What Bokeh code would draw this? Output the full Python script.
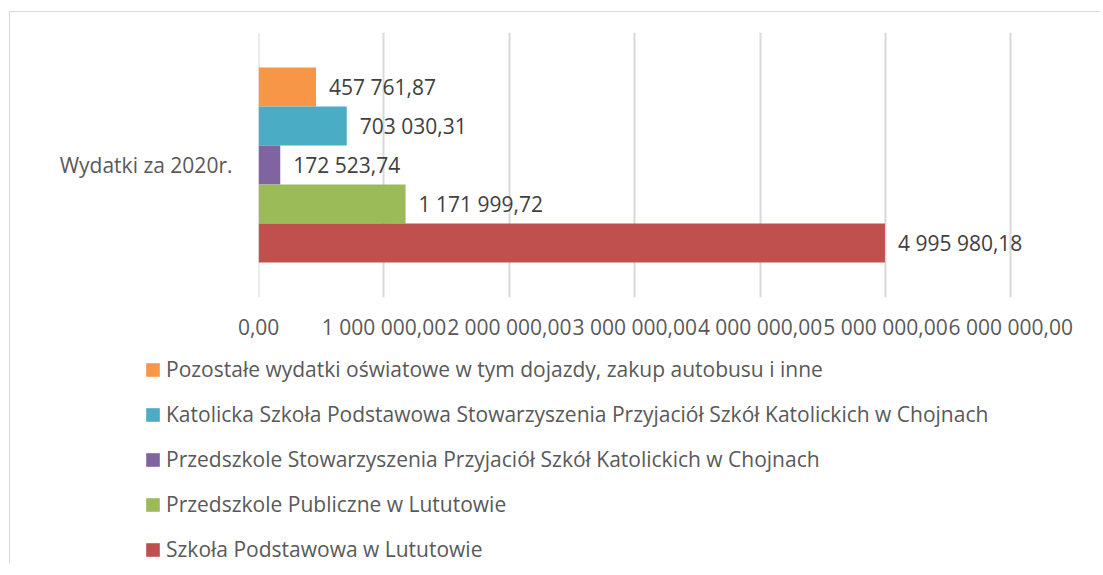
from bokeh.plotting import figure
from bokeh.layouts import column
from bokeh.models import (FactorRange, Range1d, FixedTicker, Legend, LegendItem,
                          ColumnDataSource, LabelSet)
from bokeh.core.properties import value
from bokeh.transform import dodge
from bokeh.embed import file_html
from bokeh.resources import INLINE

category = "Wydatki za 2020r."
series_names = [
    "Pozostałe wydatki oświatowe w tym dojazdy, zakup autobusu i inne",
    "Katolicka Szkoła Podstawowa Stowarzyszenia Przyjaciół Szkół Katolickich w Chojnach",
    "Przedszkole Stowarzyszenia Przyjaciół Szkół Katolickich w Chojnach",
    "Przedszkole Publiczne w Lututowie",
    "Szkoła Podstawowa w Lututowie",
]
series_values = [457761.87, 703030.31, 172523.74, 1171999.72, 4995980.18]
series_colors = ["#F79646", "#4BACC6", "#8064A2", "#9BBB59", "#C0504D"]
tick_values = [0, 1000000, 2000000, 3000000, 4000000, 5000000, 6000000]
tick_labels = ["0,00", "1 000 000,00", "2 000 000,00", "3 000 000,00",
               "4 000 000,00", "5 000 000,00", "6 000 000,00"]

FONT = "Open Sans"
TXT = "#595959"
FS = "21px"

x_end = 6500000
frame_w = round(752 * x_end / 6000000)

p = figure(frame_width=frame_w, frame_height=265, output_backend="svg",
           toolbar_location=None,
           y_range=FactorRange(factors=[category], range_padding=0),
           x_range=Range1d(-1000, x_end),
           min_border_left=248, min_border_right=1090 - 248 - frame_w,
           min_border_top=20, min_border_bottom=45)
p.frame_align = False
p.outline_line_color = None
p.background_fill_color = "white"
p.border_fill_color = "white"

n = len(series_values)
bar_h = 0.147
for i, (name, val, col) in enumerate(zip(series_names, series_values, series_colors)):
    off = ((n - 1) / 2 - i) * bar_h
    lbl = f"{val:,.2f}".replace(",", " ").replace(".", ",")
    src = ColumnDataSource(dict(cat=[category], v=[val], lbl=[lbl]))
    p.hbar(y=dodge("cat", off, range=p.y_range), right="v", left=0, height=bar_h,
           source=src, fill_color=col, line_color=None)
    labels = LabelSet(x="v", y=dodge("cat", off, range=p.y_range), text="lbl", source=src,
                      x_offset=13, text_baseline="middle", text_font=value(FONT),
                      text_font_size=FS, text_color="#404040")
    p.add_layout(labels)

p.xaxis.ticker = FixedTicker(ticks=tick_values)
p.xaxis.major_label_overrides = {t: l for t, l in zip(tick_values, tick_labels)}
p.xaxis.axis_line_color = None
p.xaxis.major_tick_line_color = None
p.xaxis.minor_tick_line_color = None
p.xaxis.major_label_text_font = FONT
p.xaxis.major_label_text_font_size = FS
p.xaxis.major_label_text_color = TXT
p.xaxis.major_label_standoff = 9

p.yaxis.axis_line_color = None
p.yaxis.major_tick_line_color = None
p.yaxis.major_label_text_font = FONT
p.yaxis.major_label_text_font_size = FS
p.yaxis.major_label_text_color = TXT
p.yaxis.major_label_standoff = 20

p.xgrid.grid_line_color = "#d9d9d9"
p.xgrid.grid_line_width = 2
p.ygrid.grid_line_color = None

# legend panel below the chart
leg_h = 220
q = figure(width=1090, height=leg_h, output_backend="svg", toolbar_location=None,
           x_axis_type=None, y_axis_type=None,
           x_range=Range1d(0, 1090), y_range=Range1d(0, leg_h),
           min_border=0)
q.frame_align = False
q.outline_line_color = None
q.grid.visible = False
items = []
for name, val, col in zip(series_names, series_values, series_colors):
    # legend-only renderer: same value, no drawable position
    lsrc = ColumnDataSource(dict(y=[float("nan")], v=[val]))
    r = q.hbar(y="y", right="v", left=0, height=1, source=lsrc,
               fill_color=col, line_color=None)
    items.append(LegendItem(label=name, renderers=[r]))
legend = Legend(items=items, location=(134, 0), orientation="vertical",
                padding=0, margin=0, spacing=17, glyph_width=17, glyph_height=17,
                label_height=20, label_standoff=5, label_text_font=FONT,
                label_text_font_size=FS, label_text_color=TXT,
                border_line_color=None, background_fill_alpha=0)
q.add_layout(legend, "center")

layout = column(p, q, spacing=0)
layout.styles = {"border-left": "1px solid #d9d9d9", "border-top": "1px solid #d9d9d9",
                 "margin-top": "11px", "margin-left": "9px"}

open("out.html", "w").write(file_html(layout, INLINE))
